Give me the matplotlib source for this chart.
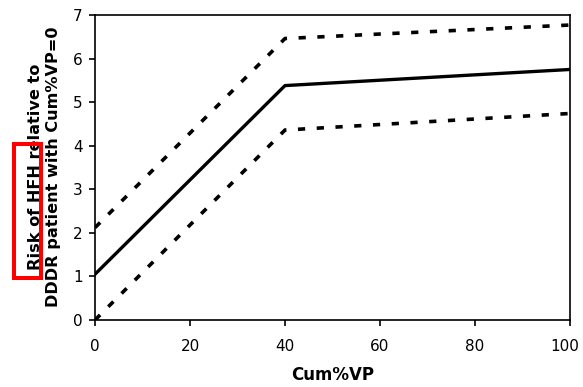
import matplotlib
matplotlib.use("Agg")
import matplotlib.pyplot as plt
import matplotlib.transforms as mtrans
from matplotlib.patches import Rectangle

x_vals = [0, 40, 100]
risk = [1.05, 5.38, 5.75]
upper_ci = [2.12, 6.46, 6.77]
lower_ci = [0.0, 4.36, 4.74]
x_ticks = [0, 20, 40, 60, 80, 100]
y_ticks = [0, 1, 2, 3, 4, 5, 6, 7]

W, H = 583, 387
fig = plt.figure(figsize=(W/100, H/100), dpi=100)
ax = fig.add_axes([95/W, 1-320/H, 475/W, 305/H])

ax.plot(x_vals, risk, color="black", lw=2.4, solid_joinstyle="round")
dash = (0, (2.0, 3.2))
ax.plot(x_vals, upper_ci, color="black", lw=2.6, linestyle=dash)
ax.plot(x_vals, lower_ci, color="black", lw=2.6, linestyle=dash)

ax.set_xlim(0, 100)
ax.set_ylim(0, 7)
ax.set_xticks(x_ticks)
ax.set_yticks(y_ticks)
ax.tick_params(direction="out", length=4, width=1.2, labelsize=11)
ax.tick_params(axis="x", pad=10)
ax.tick_params(axis="y", pad=5)
for s in ax.spines.values():
    s.set_linewidth(1.2)

fig.canvas.draw()
last = ax.get_xticklabels()[-1]
last.set_transform(last.get_transform() +
                   mtrans.ScaledTranslation(-5/100, 0, fig.dpi_scale_trans))

fig.text(0.5*(95+570)/W, 1-375/H, "Cum%VP", fontsize=12, fontweight="bold",
         ha="center", va="center")
fig.text(44.5/W, 1-167/H, "Risk of HFH relative to\nDDDR patient with Cum%VP=0",
         fontsize=11.6, fontweight="bold", rotation=90, ha="center", va="center",
         multialignment="center", linespacing=1.3)

fig.patches.append(Rectangle((14/W, 1-278/H), 27/W, 134/H,
                             transform=fig.transFigure, fill=False,
                             edgecolor="red", lw=2.9, zorder=10))

fig.savefig("out.png", dpi=100)
